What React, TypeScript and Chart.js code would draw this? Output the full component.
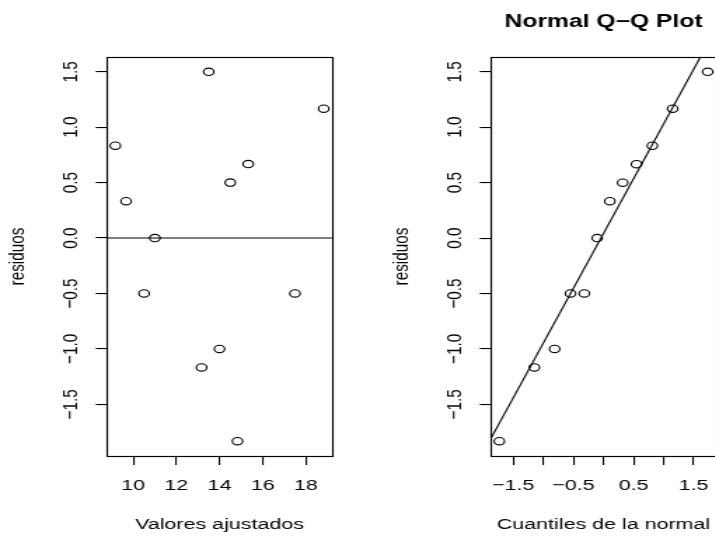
import React, { useEffect, useRef } from 'react';
import { Chart, registerables } from 'chart.js';

Chart.register(...registerables);

// ---------- data ----------
const ajustados = [9.167, 9.667, 11.0, 10.5, 13.5, 14.5, 15.333, 18.833, 17.5, 13.167, 14.0, 14.833];
const residuos = [0.833, 0.333, 0.0, -0.5, 1.5, 0.5, 0.667, 1.167, -0.5, -1.167, -1.0, -1.833];

const cuantilesNormal = [-1.732, -1.15, -0.812, -0.549, -0.319, -0.105, 0.105, 0.319, 0.549, 0.812, 1.15, 1.732];
const residuosOrdenados = [-1.833, -1.167, -1.0, -0.5, -0.5, 0.0, 0.333, 0.5, 0.667, 0.833, 1.167, 1.5];
const qqIntercepto = 0.042;
const qqPendiente = 0.988;

const xTicksAjustados = [10, 12, 14, 16, 18];
const xTickLabelsAjustados = ['10', '12', '14', '16', '18'];
const xTicksNormal = [-1.5, -1, -0.5, 0, 0.5, 1, 1.5];
const xTickLabelsNormal = ['\u22121.5', '', '\u22120.5', '', '0.5', '', '1.5'];
const yTicks = [-1.5, -1, -0.5, 0, 0.5, 1, 1.5];
const yTickLabels = ['\u22121.5', '\u22121.0', '\u22120.5', '0.0', '0.5', '1.0', '1.5'];

// ---------- layout ----------
const FONT = "'Liberation Sans', Arial, Helvetica, sans-serif";
const CANVAS_W = 274;
const CANVAS_CSS_W = 384;
const H = 540;
const Y_AXIS_W = 76.35;
const RIGHT_PAD = 37.1;
const TOP = 57;
const X_AXIS_H = 84;

function rRange(vals: number[]): [number, number] {
  const mn = Math.min(...vals);
  const mx = Math.max(...vals);
  const d = (mx - mn) * 0.04;
  return [mn - d, mx + d];
}

const boxPlugin = {
  id: 'rbox',
  afterDatasetsDraw(chart: any) {
    const { ctx, chartArea } = chart;
    const l = Math.round(chartArea.left) + 0.5;
    const t = Math.round(chartArea.top) + 0.5;
    const r = Math.round(chartArea.right) + 0.5;
    const b = Math.round(chartArea.bottom) + 0.5;
    ctx.save();
    ctx.strokeStyle = '#000';
    ctx.lineWidth = 1.15;
    ctx.strokeRect(l, t, r - l, b - t);
    ctx.restore();
  },
};

function buildConfig(opts: {
  xs: number[];
  ys: number[];
  line: { x: number; y: number }[];
  xMin: number;
  xMax: number;
  xTicks: number[];
  xLabels: string[];
  xTitle: string;
  title?: string;
}): any {
  const [yMin, yMax] = rRange(opts.ys);
  return {
    type: 'scatter',
    data: {
      datasets: [
        {
          data: opts.xs.map((x, i) => ({ x, y: opts.ys[i] })),
          pointStyle: 'circle',
          pointRadius: 3.7,
          pointBorderWidth: 1.1,
          pointBorderColor: '#000',
          pointBackgroundColor: 'rgba(0,0,0,0)',
          showLine: false,
        },
        {
          data: opts.line,
          showLine: true,
          borderColor: '#000',
          borderWidth: 1.1,
          pointRadius: 0,
          clip: 0,
        },
      ],
    },
    options: {
      responsive: false,
      animation: false,
      devicePixelRatio: 1,
      events: [],
      layout: { padding: { top: opts.title ? 0 : TOP, left: 0, right: RIGHT_PAD, bottom: 0 } },
      plugins: {
        legend: { display: false },
        tooltip: { enabled: false },
        title: opts.title
          ? {
              display: true,
              text: opts.title,
              color: '#000',
              fullSize: false,
              font: { family: FONT, size: 17.6, weight: 'bold', lineHeight: 1.2 },
              padding: { top: 11.4, bottom: 24.5 },
            }
          : { display: false },
      },
      scales: {
        x: {
          type: 'linear',
          position: 'bottom',
          min: opts.xMin,
          max: opts.xMax,
          afterBuildTicks: (scale: any) => {
            scale.ticks = opts.xTicks.map((v) => ({ value: v }));
          },
          afterFit: (scale: any) => {
            scale.height = X_AXIS_H;
          },
          ticks: {
            autoSkip: false,
            maxRotation: 0,
            minRotation: 0,
            padding: 12,
            color: '#000',
            font: { family: FONT, size: 15.3 },
            callback: (_v: any, i: number) => opts.xLabels[i] ?? '',
          },
          grid: { display: true, drawOnChartArea: false, drawTicks: true, tickLength: 9, color: '#000', lineWidth: 1.1 },
          border: { display: false },
          title: {
            display: true,
            text: opts.xTitle,
            color: '#000',
            font: { family: FONT, size: 15.3, lineHeight: 1.2 },
            padding: { top: 0, bottom: 6.5 },
          },
        },
        y: {
          type: 'linear',
          position: 'left',
          min: yMin,
          max: yMax,
          afterBuildTicks: (scale: any) => {
            scale.ticks = yTicks.map((v) => ({ value: v }));
          },
          afterFit: (scale: any) => {
            scale.width = Y_AXIS_W;
          },
          ticks: {
            autoSkip: false,
            minRotation: 90,
            maxRotation: 90,
            crossAlign: 'center',
            padding: 2.9,
            color: '#000',
            font: { family: FONT, size: 15.3 },
            callback: (_v: any, i: number) => yTickLabels[i] ?? '',
          },
          grid: { display: true, drawOnChartArea: false, drawTicks: true, tickLength: 8, color: '#000', lineWidth: 1.1 },
          border: { display: false },
          title: {
            display: true,
            text: 'residuos',
            color: '#000',
            font: { family: FONT, size: 15.3, lineHeight: 1.2 },
            padding: { top: 3.5, bottom: 0 },
          },
        },
      },
    },
    plugins: [boxPlugin],
  };
}

function leftConfig() {
  const [xMin, xMax] = rRange(ajustados);
  return buildConfig({
    xs: ajustados,
    ys: residuos,
    line: [
      { x: xMin, y: 0 },
      { x: xMax, y: 0 },
    ],
    xMin,
    xMax,
    xTicks: xTicksAjustados,
    xLabels: xTickLabelsAjustados,
    xTitle: 'Valores ajustados',
  });
}

function rightConfig() {
  const [xMin, xMax] = rRange(cuantilesNormal);
  return buildConfig({
    xs: cuantilesNormal,
    ys: residuosOrdenados,
    line: [
      { x: xMin, y: qqIntercepto + qqPendiente * xMin },
      { x: xMax, y: qqIntercepto + qqPendiente * xMax },
    ],
    xMin,
    xMax,
    xTicks: xTicksNormal,
    xLabels: xTickLabelsNormal,
    xTitle: 'Cuantiles de la normal',
    title: 'Normal Q\u2212Q Plot',
  });
}

function Panel({ build, left }: { build: () => any; left: number }) {
  const ref = useRef<HTMLCanvasElement>(null);
  useEffect(() => {
    if (!ref.current) return;
    const chart = new Chart(ref.current, build());
    return () => chart.destroy();
  }, []);
  return (
    <canvas
      ref={ref}
      width={CANVAS_W}
      height={H}
      style={{ position: 'absolute', left, top: 0, width: CANVAS_CSS_W + 'px', height: H + 'px', display: 'block' }}
    />
  );
}

export default function App() {
  return (
    <div
      style={{
        position: 'fixed',
        left: 0,
        top: 0,
        width: 715,
        height: 540,
        overflow: 'hidden',
        background: '#fff',
      }}
    >
      <Panel build={leftConfig} left={0} />
      <Panel build={rightConfig} left={384} />
    </div>
  );
}
